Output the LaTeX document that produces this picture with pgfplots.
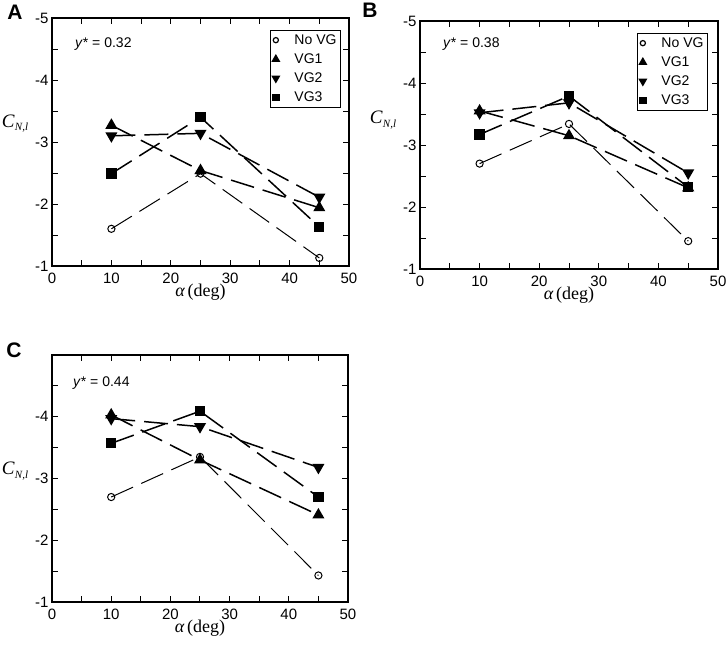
\documentclass[border=0pt]{standalone}
\usepackage{fontspec}
\setmainfont{Liberation Sans}
\newfontfamily\timesf{Liberation Serif}
\usepackage{pgfplots}
\pgfplotsset{compat=1.18}
\pgfplotsset{
  panel/.style={
    scale only axis,
    xmin=0, xmax=50, ymin=-5, ymax=-1, y dir=reverse,
    xtick={0,10,...,50}, minor xtick={5,15,...,45},
    ytick={-5,-4,-3,-2,-1}, minor ytick={-4.5,-3.5,-2.5,-1.5},
    tick align=inside, major tick length=6pt, minor tick length=6pt,
    tick style={line width=1pt, black},
    axis line style={line width=1.1pt},
    /pgf/number format/assume math mode=true,
    ticklabel style={font=\fontsize{15}{15}\selectfont},
    xticklabel style={yshift=-3pt},
    xlabel={{\timesf\itshape α}\,{\timesf (deg)}},
    xlabel style={at={(axis description cs:0.5,0)}, yshift=-26pt, anchor=center, font=\fontsize{18}{18}\selectfont},
    ylabel={{\timesf\itshape C\kern0.3pt\raisebox{-0.4ex}{\fontsize{11}{11}\selectfont N,l}}},
    ylabel style={rotate=-90, anchor=center, font=\fontsize{19}{19}\selectfont},
    legend style={at={(1,1)}, anchor=north east, draw=black, line width=1pt,
      font=\fontsize{14}{14}\selectfont, inner xsep=2pt, inner ysep=2pt, row sep=3.8pt,
      /tikz/every odd column/.append style={column sep=13pt}},
    legend cell align=left,
  },
  novg/.style={black, line width=1pt, dash pattern=on 24pt off 9pt, mark=o, mark size=3.6pt, mark options={solid, fill=white}},
  vga/.style={black, line width=1.5pt, dash pattern=on 24pt off 9pt, mark=triangle*, mark size=5.5pt, mark options={solid}},
  vgb/.style={black, line width=1.5pt, dash pattern=on 24pt off 9pt, mark=triangle*, mark size=5.5pt, mark options={solid, rotate=180}},
  vgc/.style={black, line width=1.5pt, dash pattern=on 24pt off 9pt, mark=square*, mark size=4.4pt, mark options={solid}},
}
\begin{document}
\begin{tikzpicture}
\useasboundingbox (0,0) rectangle (726pt,-649pt);
% Panel A
\begin{axis}[panel, at={(52pt,-266pt)}, anchor=south west, width=297pt, height=248pt,
  ylabel style={at={(axis description cs:0,0.575)}, xshift=-37pt},
  legend style={xshift=-8pt, yshift=-12pt}]
\addlegendimage{only marks, mark=o, mark size=2.6pt, mark options={fill=white}, line width=1.2pt}
\addlegendentry{No VG}
\addlegendimage{only marks, mark=triangle*, mark size=4.2pt}
\addlegendentry{VG1}
\addlegendimage{only marks, mark=triangle*, mark size=4.2pt, mark options={rotate=180}}
\addlegendentry{VG2}
\addlegendimage{only marks, mark=square*, mark size=3.2pt}
\addlegendentry{VG3}
\addplot[novg, forget plot] coordinates {(10,-1.60) (25,-2.49) (45,-1.13)};
\addplot[vga, forget plot] coordinates {(10,-3.27) (25,-2.54) (45,-1.94)};
\addplot[vgb, forget plot] coordinates {(10,-3.10) (25,-3.14) (45,-2.11)};
\addplot[vgc, forget plot] coordinates {(10,-2.49) (25,-3.40) (45,-1.63)};
\end{axis}
% Panel B
\begin{axis}[panel, at={(420pt,-269pt)}, anchor=south west, width=298pt, height=248pt,
  ylabel style={at={(axis description cs:0,0.60)}, xshift=-37pt},
  legend style={xshift=-10pt, yshift=-12pt}]
\addlegendimage{only marks, mark=o, mark size=2.6pt, mark options={fill=white}, line width=1.2pt}
\addlegendentry{No VG}
\addlegendimage{only marks, mark=triangle*, mark size=4.2pt}
\addlegendentry{VG1}
\addlegendimage{only marks, mark=triangle*, mark size=4.2pt, mark options={rotate=180}}
\addlegendentry{VG2}
\addlegendimage{only marks, mark=square*, mark size=3.2pt}
\addlegendentry{VG3}
\addplot[novg, forget plot] coordinates {(10,-2.70) (25,-3.34) (45,-1.45)};
\addplot[vga, forget plot] coordinates {(10,-3.55) (25,-3.15) (45,-2.31)};
\addplot[vgb, forget plot] coordinates {(10,-3.52) (25,-3.68) (45,-2.55)};
\addplot[vgc, forget plot] coordinates {(10,-3.17) (25,-3.79) (45,-2.32)};
\end{axis}
% Panel C
\begin{axis}[panel, at={(52pt,-602pt)}, anchor=south west, width=296pt, height=247pt,
  ytick={-4,-3,-2,-1},
  ylabel style={at={(axis description cs:0,0.53)}, xshift=-37pt}]
\addplot[novg] coordinates {(10,-2.70) (25,-3.35) (45,-1.43)};
\addplot[vga] coordinates {(10,-4.03) (25,-3.30) (45,-2.41)};
\addplot[vgb] coordinates {(10,-3.97) (25,-3.84) (45,-3.18)};
\addplot[vgc] coordinates {(10,-3.57) (25,-4.09) (45,-2.70)};
\end{axis}
% panel letters and annotations
\node[font=\bfseries\fontsize{21}{21}\selectfont] at (15pt,-12pt) {A};
\node[font=\bfseries\fontsize{21}{21}\selectfont] at (370pt,-10pt) {B};
\node[font=\bfseries\fontsize{21}{21}\selectfont] at (14pt,-350pt) {C};
\node[anchor=west, inner sep=0pt, font=\fontsize{14}{14}\selectfont] at (75pt,-44pt) {\textit{y}* = 0.32};
\node[anchor=west, inner sep=0pt, font=\fontsize{14}{14}\selectfont] at (443pt,-44pt) {\textit{y}* = 0.38};
\node[anchor=west, inner sep=0pt, font=\fontsize{14}{14}\selectfont] at (73pt,-383pt) {\textit{y}* = 0.44};
\end{tikzpicture}
\end{document}
